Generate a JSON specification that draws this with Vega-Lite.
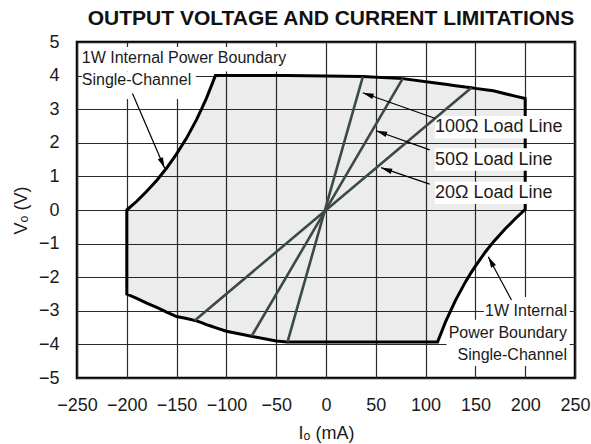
{
  "$schema": "https://vega.github.io/schema/vega-lite/v6.json",
  "width": 498,
  "height": 336,
  "autosize": {"type": "none"},
  "padding": {"left": 77, "top": 42, "right": 16, "bottom": 66},
  "background": "white",
  "title": {"text": "OUTPUT VOLTAGE AND CURRENT LIMITATIONS", "font": "Liberation Sans", "fontSize": 21, "fontWeight": "bold", "color": "#111111", "anchor": "middle", "offset": 4, "dx": 5},
  "config": {
    "view": {"stroke": "black", "strokeWidth": 2.5},
    "font": "Liberation Sans",
    "axis": {"domain": false, "ticks": false, "tickSize": 0, "grid": true, "gridColor": "#2a2a2a", "gridWidth": 1.2, "gridOpacity": 1, "labelFont": "Liberation Sans", "labelFontSize": 18, "labelColor": "#1a1a1a", "labelPadding": 18, "labelFlush": false, "labelOverlap": false, "titleFont": "Liberation Sans", "titleFontSize": 18, "titleFontWeight": "normal", "titleColor": "#1a1a1a"},
    "axisX": {"titlePadding": 10},
    "axisY": {"titlePadding": 8}
  },
  "datasets": {
    "boundary": [
      {"I": -200, "top": 0.0, "bot": -2.5},
      {"I": -190, "top": 0.26, "bot": -2.63},
      {"I": -180, "top": 0.56, "bot": -2.77},
      {"I": -170, "top": 0.88, "bot": -2.9},
      {"I": -160, "top": 1.25, "bot": -3.04},
      {"I": -150, "top": 1.67, "bot": -3.17},
      {"I": -140, "top": 2.14, "bot": -3.23},
      {"I": -130, "top": 2.69, "bot": -3.3},
      {"I": -125, "top": 3.0, "bot": -3.35},
      {"I": -120, "top": 3.33, "bot": -3.41},
      {"I": -115, "top": 3.7, "bot": -3.46},
      {"I": -111.1, "top": 4.0, "bot": -3.5},
      {"I": -100, "top": 4.0, "bot": -3.61},
      {"I": -75, "top": 4.0, "bot": -3.76},
      {"I": -50, "top": 4.0, "bot": -3.9},
      {"I": -39, "top": 4.0, "bot": -3.93},
      {"I": 0, "top": 3.99, "bot": -3.93},
      {"I": 37, "top": 3.97, "bot": -3.93},
      {"I": 77, "top": 3.91, "bot": -3.93},
      {"I": 112, "top": 3.77, "bot": -3.93},
      {"I": 120, "top": 3.74, "bot": -3.33},
      {"I": 130, "top": 3.7, "bot": -2.69},
      {"I": 140, "top": 3.66, "bot": -2.14},
      {"I": 146, "top": 3.64, "bot": -1.85},
      {"I": 150, "top": 3.62, "bot": -1.67},
      {"I": 160, "top": 3.58, "bot": -1.25},
      {"I": 168, "top": 3.55, "bot": -0.95},
      {"I": 180, "top": 3.46, "bot": -0.56},
      {"I": 190, "top": 3.39, "bot": -0.26},
      {"I": 200, "top": 3.32, "bot": 0.02}
    ],
    "loadlines": [
      {"R": "100", "I": 37, "V": 3.97},
      {"R": "100", "I": -38.7, "V": -3.93},
      {"R": "50", "I": 77, "V": 3.91},
      {"R": "50", "I": -74.6, "V": -3.75},
      {"R": "20", "I": 146, "V": 3.64},
      {"R": "20", "I": -131.8, "V": -3.29}
    ],
    "arrows": [
      {"id": "tl", "dir": "down", "I": -194.3, "V": 3.47, "I2": -162, "V2": 1.24},
      {"id": "r100", "dir": "left", "I": 109.2, "V": 2.73, "I2": 36.9, "V2": 3.49},
      {"id": "r50", "dir": "left", "I": 104.1, "V": 1.79, "I2": 50.4, "V2": 2.36},
      {"id": "r20", "dir": "left", "I": 104.1, "V": 0.77, "I2": 55.4, "V2": 1.26},
      {"id": "br", "dir": "up", "I": 186.2, "V": -2.68, "I2": 162.9, "V2": -1.39}
    ],
    "boxes": [
      {"id": "tl1", "I": -245, "I2": -35, "V": 4.85, "V2": 4.12},
      {"id": "tl2", "I": -245, "I2": -130.7, "V": 4.12, "V2": 3.3},
      {"id": "r100", "I": 109.2, "I2": 244.6, "V": 2.8, "V2": 2.13},
      {"id": "r50", "I": 109.2, "I2": 244.6, "V": 1.84, "V2": 1.17},
      {"id": "r20", "I": 109.2, "I2": 244.6, "V": 0.84, "V2": 0.18},
      {"id": "br1", "I": 158.6, "I2": 244.6, "V": -2.59, "V2": -3.27},
      {"id": "br2", "I": 124.4, "I2": 244.6, "V": -3.27, "V2": -3.96},
      {"id": "br3", "I": 121, "I2": 244.6, "V": -3.96, "V2": -4.64}
    ],
    "labels": [
      {"group": "tl", "text": "1W Internal Power Boundary", "I": -245.2, "V": 4.51},
      {"group": "tl", "text": "Single-Channel", "I": -245.2, "V": 3.87},
      {"group": "load", "text": "100Ω Load Line", "I": 109.5, "V": 2.47},
      {"group": "load", "text": "50Ω Load Line", "I": 109.5, "V": 1.5},
      {"group": "load", "text": "20Ω Load Line", "I": 109.5, "V": 0.51},
      {"group": "br", "text": "1W Internal", "I": 241.9, "V": -3.0},
      {"group": "br", "text": "Power Boundary", "I": 241.9, "V": -3.67},
      {"group": "br", "text": "Single-Channel", "I": 241.9, "V": -4.32}
    ]
  },
  "layer": [
    {
      "data": {"name": "boundary"},
      "mark": {"type": "area", "fill": "black", "fillOpacity": 0.075, "stroke": "black", "strokeWidth": 3, "strokeOpacity": 1, "strokeJoin": "miter"},
      "encoding": {
        "x": {"field": "I", "type": "quantitative", "title": "Iₒ (mA)", "scale": {"domain": [-250, 250], "nice": false, "zero": false}, "axis": {"values": [-250, -200, -150, -100, -50, 0, 50, 100, 150, 200, 250], "tickCount": 11, "labelOverlap": false, "labelFlush": false}},
        "y": {"field": "top", "type": "quantitative", "title": "Vₒ (V)", "scale": {"domain": [-5, 5], "nice": false, "zero": false}, "axis": {"values": [-5, -4, -3, -2, -1, 0, 1, 2, 3, 4, 5], "tickCount": 11, "labelOverlap": false, "labelFlush": false}},
        "y2": {"field": "bot"}
      }
    },
    {
      "data": {"name": "boxes"},
      "mark": {"type": "rect", "fill": "white", "strokeWidth": 0},
      "encoding": {
        "x": {"field": "I", "type": "quantitative", "title": "Iₒ (mA)", "scale": {"domain": [-250, 250], "nice": false, "zero": false}},
        "x2": {"field": "I2"},
        "y": {"field": "V", "type": "quantitative", "title": "Vₒ (V)", "scale": {"domain": [-5, 5], "nice": false, "zero": false}},
        "y2": {"field": "V2"}
      }
    },
    {
      "data": {"name": "loadlines"},
      "mark": {"type": "line", "color": "#3b4948", "strokeWidth": 2.6},
      "encoding": {
        "x": {"field": "I", "type": "quantitative", "title": "Iₒ (mA)", "scale": {"domain": [-250, 250], "nice": false, "zero": false}},
        "y": {"field": "V", "type": "quantitative", "title": "Vₒ (V)", "scale": {"domain": [-5, 5], "nice": false, "zero": false}},
        "detail": {"field": "R", "type": "nominal"}
      }
    },
    {
      "data": {"name": "arrows"},
      "mark": {"type": "rule", "color": "black", "strokeWidth": 1.2},
      "encoding": {
        "x": {"field": "I", "type": "quantitative", "title": "Iₒ (mA)", "scale": {"domain": [-250, 250], "nice": false, "zero": false}},
        "x2": {"field": "I2"},
        "y": {"field": "V", "type": "quantitative", "title": "Vₒ (V)", "scale": {"domain": [-5, 5], "nice": false, "zero": false}},
        "y2": {"field": "V2"}
      }
    },
    {
      "data": {"name": "arrows"},
      "transform": [{"filter": "datum.dir === 'down'"}],
      "mark": {"type": "point", "shape": "M0,0L-0.25,1L0.25,1Z", "filled": true, "color": "black", "opacity": 1, "size": 484, "angle": 157},
      "encoding": {
        "x": {"field": "I2", "type": "quantitative", "title": "Iₒ (mA)", "scale": {"domain": [-250, 250], "nice": false, "zero": false}},
        "y": {"field": "V2", "type": "quantitative", "title": "Vₒ (V)", "scale": {"domain": [-5, 5], "nice": false, "zero": false}}
      }
    },
    {
      "data": {"name": "arrows"},
      "transform": [{"filter": "datum.dir === 'left'"}],
      "mark": {"type": "point", "shape": "M0,0L-0.25,1L0.25,1Z", "filled": true, "color": "black", "opacity": 1, "size": 484, "angle": 289.5},
      "encoding": {
        "x": {"field": "I2", "type": "quantitative", "title": "Iₒ (mA)", "scale": {"domain": [-250, 250], "nice": false, "zero": false}},
        "y": {"field": "V2", "type": "quantitative", "title": "Vₒ (V)", "scale": {"domain": [-5, 5], "nice": false, "zero": false}}
      }
    },
    {
      "data": {"name": "arrows"},
      "transform": [{"filter": "datum.dir === 'up'"}],
      "mark": {"type": "point", "shape": "M0,0L-0.25,1L0.25,1Z", "filled": true, "color": "black", "opacity": 1, "size": 484, "angle": 331.5},
      "encoding": {
        "x": {"field": "I2", "type": "quantitative", "title": "Iₒ (mA)", "scale": {"domain": [-250, 250], "nice": false, "zero": false}},
        "y": {"field": "V2", "type": "quantitative", "title": "Vₒ (V)", "scale": {"domain": [-5, 5], "nice": false, "zero": false}}
      }
    },
    {
      "data": {"name": "labels"},
      "transform": [{"filter": "datum.group === 'tl'"}],
      "mark": {"type": "text", "font": "Liberation Sans", "fontSize": 16, "align": "left", "baseline": "middle", "color": "#1a1a1a"},
      "encoding": {
        "x": {"field": "I", "type": "quantitative", "title": "Iₒ (mA)", "scale": {"domain": [-250, 250], "nice": false, "zero": false}},
        "y": {"field": "V", "type": "quantitative", "title": "Vₒ (V)", "scale": {"domain": [-5, 5], "nice": false, "zero": false}},
        "text": {"field": "text", "type": "nominal"}
      }
    },
    {
      "data": {"name": "labels"},
      "transform": [{"filter": "datum.group === 'load'"}],
      "mark": {"type": "text", "font": "Liberation Sans", "fontSize": 18, "align": "left", "baseline": "middle", "color": "#1a1a1a"},
      "encoding": {
        "x": {"field": "I", "type": "quantitative", "title": "Iₒ (mA)", "scale": {"domain": [-250, 250], "nice": false, "zero": false}},
        "y": {"field": "V", "type": "quantitative", "title": "Vₒ (V)", "scale": {"domain": [-5, 5], "nice": false, "zero": false}},
        "text": {"field": "text", "type": "nominal"}
      }
    },
    {
      "data": {"name": "labels"},
      "transform": [{"filter": "datum.group === 'br'"}],
      "mark": {"type": "text", "font": "Liberation Sans", "fontSize": 16, "align": "right", "baseline": "middle", "color": "#1a1a1a"},
      "encoding": {
        "x": {"field": "I", "type": "quantitative", "title": "Iₒ (mA)", "scale": {"domain": [-250, 250], "nice": false, "zero": false}},
        "y": {"field": "V", "type": "quantitative", "title": "Vₒ (V)", "scale": {"domain": [-5, 5], "nice": false, "zero": false}},
        "text": {"field": "text", "type": "nominal"}
      }
    }
  ]
}
